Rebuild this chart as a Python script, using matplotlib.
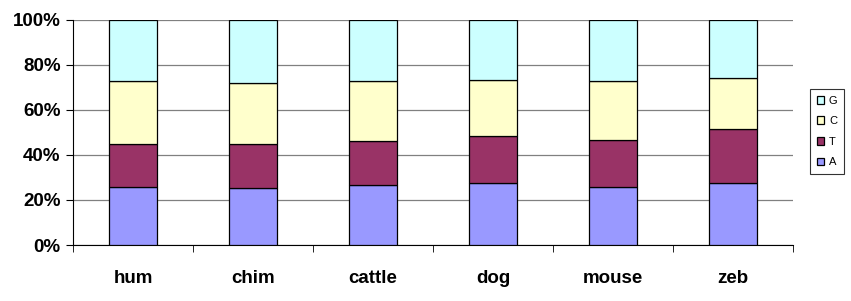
import matplotlib.pyplot as plt
import numpy as np

plt.rcParams['font.family'] = ['Liberation Sans', 'DejaVu Sans']

# data (percent of each base)
species = ['hum', 'chim', 'cattle', 'dog', 'mouse', 'zeb']
A = [25.9, 25.1, 26.6, 27.6, 25.9, 27.6]
T = [19.0, 19.8, 19.7, 20.9, 20.5, 23.8]
C = [27.7, 26.8, 26.3, 24.7, 26.2, 22.5]
G = [27.4, 28.3, 27.4, 26.8, 27.4, 26.1]

series = [('A', A, '#9999FF'), ('T', T, '#993366'),
          ('C', C, '#FFFFCC'), ('G', G, '#CCFFFF')]

fig = plt.figure(figsize=(8.51, 3.01), dpi=100)
ax = fig.add_axes([73 / 851, 56 / 301, 720 / 851, 225.5 / 301])

x = np.arange(len(species))
bottom = np.zeros(len(species))
bars = []
for name, vals, col in series:
    b = ax.bar(x, vals, 0.4, bottom=bottom, color=col, edgecolor='black',
               linewidth=0.9, label=name, zorder=3)
    bars.append(b)
    bottom += np.array(vals)

ax.set_xlim(-0.5, len(species) - 0.5)
ax.set_ylim(0, 100)
ax.set_yticks(np.arange(0, 101, 20))
ax.set_yticklabels(['%d%%' % v for v in range(0, 101, 20)],
                   fontsize=13.5, fontweight='bold')
ax.yaxis.grid(True, color='#808080', linewidth=0.9, zorder=0)

ax.set_xticks(x)
ax.set_xticklabels(species, fontsize=13.5, fontweight='bold')
ax.tick_params(axis='x', length=0, pad=18)
ax.set_xticks(np.arange(-0.5, len(species)), minor=True)
ax.tick_params(axis='x', which='minor', length=5, direction='out', color='black')
ax.tick_params(axis='y', length=5, direction='out', color='black', pad=4)

for s in ['top', 'right']:
    ax.spines[s].set_visible(False)
ax.spines['left'].set_color('black')
ax.spines['bottom'].set_color('black')

handles = bars[::-1]
labels = ['G', 'C', 'T', 'A']
leg = fig.legend(handles, labels, loc='upper left',
                 bbox_to_anchor=(810 / 851, 1 - 89 / 301),
                 fontsize=8, frameon=True, fancybox=False,
                 edgecolor='black', handlelength=0.7, handleheight=0.7,
                 handletextpad=0.4, labelspacing=0.95, borderpad=0.6,
                 borderaxespad=0)
leg.get_frame().set_linewidth(0.8)

fig.savefig('out.png', dpi=100)
